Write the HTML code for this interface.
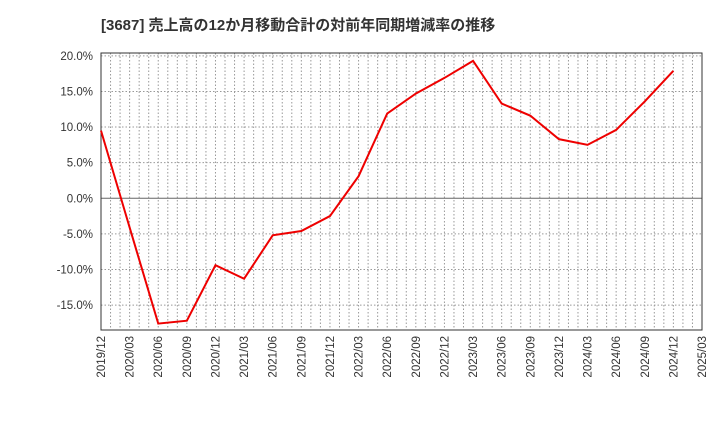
<!DOCTYPE html>
<html><head><meta charset="utf-8"><style>
body{margin:0;background:#fff;font-family:"Liberation Sans","Noto Sans CJK JP",sans-serif;}
</style></head><body>
<svg id="c" width="720" height="440" xmlns="http://www.w3.org/2000/svg">
<text x="101" y="30" font-size="15" font-weight="bold" fill="#333">[3687]  売上高の12か月移動合計の対前年同期増減率の推移</text>
<g id="grid"></g><g id="axes"></g><g id="series"></g>
</svg>
<script>
const categories=["2019/12","2020/03","2020/06","2020/09","2020/12","2021/03","2021/06","2021/09","2021/12","2022/03","2022/06","2022/09","2022/12","2023/03","2023/06","2023/09","2023/12","2024/03","2024/06","2024/09","2024/12","2025/03"];
const values=[9.5,-4.1,-17.6,-17.2,-9.4,-11.3,-5.2,-4.6,-2.5,3.1,11.9,14.7,16.9,19.3,13.3,11.6,8.3,7.5,9.6,13.6,17.9];
const yTicks=[-15,-10,-5,0,5,10,15,20];
const L=101,R=702,T=53,B=330;
const yMin=-18.5,yMax=20.4;
const x=i=>L+(R-L)*i/(categories.length-1);
const y=v=>T+(yMax-v)/(yMax-yMin)*(B-T);
const NS="http://www.w3.org/2000/svg";
function mk(t,a,p){const e=document.createElementNS(NS,t);for(const k in a)e.setAttribute(k,a[k]);p.appendChild(e);return e;}
const g=document.getElementById('grid'),ax=document.getElementById('axes'),s=document.getElementById('series');
const months=(categories.length-1)*3;
for(let m=1;m<months;m++){const xx=L+(R-L)*m/months;
const l=mk('line',{x1:xx,x2:xx,y1:T,y2:B,stroke:'#999','stroke-dasharray':'1.5,2','stroke-width':1},g);
}
yTicks.forEach(v=>{const yy=y(v);
const l=mk('line',{x1:L,x2:R,y1:yy,y2:yy,stroke:v===0?'#666':'#999','stroke-dasharray':v===0?'':'1.5,2','stroke-width':1},g);

const t=mk('text',{x:L-8,y:yy+4,'text-anchor':'end','font-size':11.5,fill:'#333'},ax);t.textContent=v.toFixed(1)+'%';
});
const f=mk('rect',{x:L,y:T,width:R-L,height:B-T,fill:'none',stroke:'#333','stroke-width':1},ax);

categories.forEach((c,i)=>{const xx=x(i);
const t=mk('text',{x:0,y:0,'text-anchor':'end','font-size':11.5,fill:'#333',transform:`translate(${xx+4},${B+6}) rotate(-90)`},ax);t.textContent=c;
});
const p=mk('polyline',{points:values.map((v,i)=>x(i)+','+y(v)).join(' '),fill:'none',stroke:'#ee0000','stroke-width':2},s);

</script>
</body></html>
